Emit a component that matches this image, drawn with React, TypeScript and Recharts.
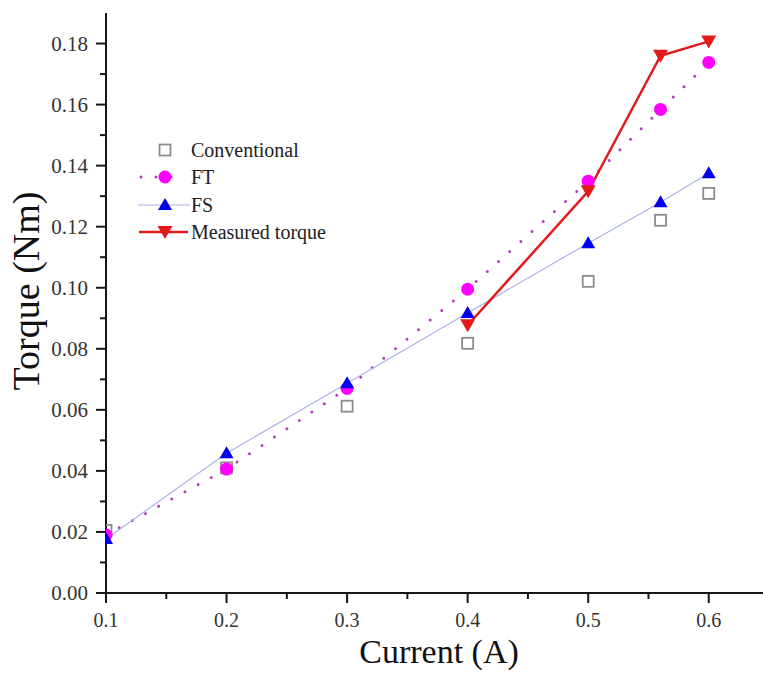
import { ComposedChart, Line, XAxis, YAxis, Legend } from 'recharts';

const currents = [0.1, 0.2, 0.3, 0.4, 0.5, 0.56, 0.6];
const conventional = [0.0205, 0.041, 0.0612, 0.0818, 0.1021, 0.1221, 0.1309];
const ft = [0.019, 0.0406, 0.067, 0.0995, 0.1349, 0.1584, 0.1738];
const fs = [0.0177, 0.0458, 0.0687, 0.0917, 0.1146, 0.128, 0.1375];
const measured = [null, null, null, 0.0877, 0.1316, 0.176, 0.1807];

const xTicks = [0.1, 0.15, 0.2, 0.25, 0.3, 0.35, 0.4, 0.45, 0.5, 0.55, 0.6];
const yTicks = [
  0, 0.01, 0.02, 0.03, 0.04, 0.05, 0.06, 0.07, 0.08, 0.09, 0.1, 0.11, 0.12, 0.13, 0.14, 0.15, 0.16, 0.17,
  0.18,
];
const seriesNames = ['Conventional', 'FT', 'FS', 'Measured torque'];

const data = currents.map((c, i) => ({
  current: c,
  conventional: conventional[i],
  ft: ft[i],
  fs: fs[i],
  measured: measured[i],
}));

const serif = "'Liberation Serif', 'Times New Roman', serif";
const ink = '#161616';

const COLORS = {
  square: '#8c8c8c',
  ftDot: '#ff00ff',
  ftLine: '#b040b8',
  fsMark: '#0000ee',
  fsLine: '#aab2e4',
  measured: '#e31a1c',
};

// marker shapes
const Square = ({ cx, cy }: any) => (
  <rect x={cx - 5.5} y={cy - 5.5} width={11} height={11} fill="none" stroke={COLORS.square} strokeWidth={1.8} />
);
const Circle = ({ cx, cy }: any) => <circle cx={cx} cy={cy} r={6.5} fill={COLORS.ftDot} />;
const TriUp = ({ cx, cy }: any) => (
  <polygon points={`${cx},${cy - 7} ${cx - 7},${cy + 5} ${cx + 7},${cy + 5}`} fill={COLORS.fsMark} />
);
const TriDown = ({ cx, cy }: any) => (
  <polygon points={`${cx - 7.5},${cy - 6} ${cx + 7.5},${cy - 6} ${cx},${cy + 7}`} fill={COLORS.measured} />
);

const dotWith = (Shape: any) => (props: any) => {
  const { cx, cy, index } = props;
  if (cx == null || cy == null || props.value == null) return <g key={`d-${index}`} />;
  return (
    <g key={`d-${index}`}>
      <Shape cx={cx} cy={cy} />
    </g>
  );
};

const XTick = (props: any) => {
  const { x, y, payload } = props;
  const major = Math.round(payload.value * 100) % 10 === 0;
  return (
    <g>
      <line x1={x} x2={x} y1={y} y2={y + (major ? 10 : 6)} stroke={ink} strokeWidth={2} />
      {major && (
        <text x={x} y={y + 34} textAnchor="middle" fontFamily={serif} fontSize={20} fill="#333">
          {payload.value.toFixed(1)}
        </text>
      )}
    </g>
  );
};

const YTick = (props: any) => {
  const { x, y, payload } = props;
  const major = Math.round(payload.value * 100) % 2 === 0;
  return (
    <g>
      <line x1={x - (major ? 10 : 6)} x2={x} y1={y} y2={y} stroke={ink} strokeWidth={2} />
      {major && (
        <text x={x - 18} y={y + 7} textAnchor="end" fontFamily={serif} fontSize={21} fill="#333">
          {payload.value.toFixed(2)}
        </text>
      )}
    </g>
  );
};

const LegendBox = () => {
  const rows = [15, 42, 70, 97];
  const sx = 55;
  return (
    <svg width={240} height={115}>
      {/* Conventional */}
      <Square cx={sx} cy={rows[0]} />
      {/* FT */}
      <line x1={31} x2={62} y1={rows[1]} y2={rows[1]} stroke={COLORS.ftLine} strokeWidth={3} strokeDasharray="0 15" strokeLinecap="round" />
      <Circle cx={sx} cy={rows[1]} />
      {/* FS */}
      <line x1={28} x2={80} y1={rows[2]} y2={rows[2]} stroke={COLORS.fsLine} strokeWidth={1.2} />
      <TriUp cx={sx} cy={rows[2]} />
      {/* Measured */}
      <line x1={29} x2={78} y1={rows[3]} y2={rows[3]} stroke={COLORS.measured} strokeWidth={2.5} />
      <TriDown cx={sx} cy={rows[3]} />
      {seriesNames.map((n, i) => (
        <text key={n} x={81} y={rows[i] + 7} fontFamily={serif} fontSize={20} fill="#222">
          {n}
        </text>
      ))}
    </svg>
  );
};

export default function App() {
  return (
    <div style={{ position: 'absolute', left: 0, top: 0, width: 763, height: 673, background: '#fff' }}>
      <ComposedChart width={763} height={673} data={data} margin={{ top: 13, right: 0, bottom: 0, left: 0 }}>
        <XAxis
          dataKey="current"
          type="number"
          domain={[0.1, 0.645]}
          ticks={xTicks}
          interval={0}
          height={80}
          tickSize={0}
          tickMargin={0}
          tickLine={false}
          tick={<XTick />}
          axisLine={{ stroke: ink, strokeWidth: 2 }}
          allowDataOverflow
          label={{
            content: () => (
              <text x={439} y={663} textAnchor="middle" fontFamily={serif} fontSize={34} fill="#111">
                Current (A)
              </text>
            ),
          }}
        />
        <YAxis
          type="number"
          domain={[0, 0.19]}
          ticks={yTicks}
          interval={0}
          width={106}
          tickSize={0}
          tickMargin={0}
          tickLine={false}
          tick={<YTick />}
          axisLine={{ stroke: ink, strokeWidth: 2 }}
          allowDataOverflow
          label={{
            content: () => (
              <text x={39} y={291} transform="rotate(-90 39 291)" textAnchor="middle" fontFamily={serif} fontSize={38} fill="#111">
                Torque (Nm)
              </text>
            ),
          }}
        />
        <Legend
          layout="vertical"
          align="center"
          verticalAlign="middle"
          content={() => <LegendBox />}
          wrapperStyle={{ left: 110, top: 135, width: 240 }}
        />
        <Line
          dataKey="conventional"
          stroke="none"
          dot={dotWith(Square)}
          activeDot={false}
          isAnimationActive={false}
        />
        <Line
          dataKey="ft"
          stroke={COLORS.ftLine}
          strokeWidth={3}
          strokeDasharray="0 15"
          strokeLinecap="round"
          dot={dotWith(Circle)}
          activeDot={false}
          isAnimationActive={false}
        />
        <Line
          dataKey="fs"
          stroke={COLORS.fsLine}
          strokeWidth={1.2}
          dot={dotWith(TriUp)}
          activeDot={false}
          isAnimationActive={false}
        />
        <Line
          dataKey="measured"
          stroke={COLORS.measured}
          strokeWidth={2.5}
          dot={dotWith(TriDown)}
          activeDot={false}
          isAnimationActive={false}
        />
      </ComposedChart>
    </div>
  );
}
